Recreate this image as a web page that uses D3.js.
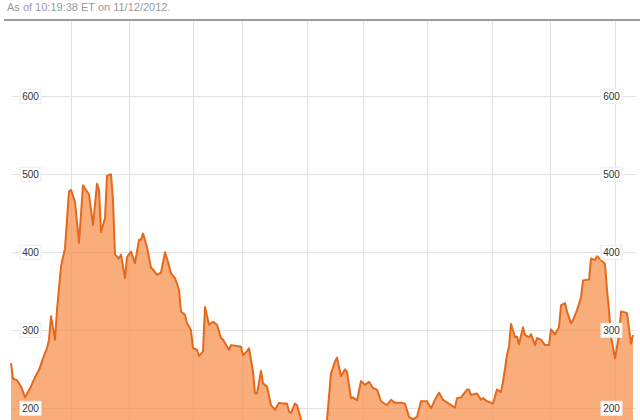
<!DOCTYPE html>
<html><head><meta charset="utf-8">
<script src="https://cdn.jsdelivr.net/npm/d3@7"></script>
<style>html,body{margin:0;padding:0;background:#fff;overflow:hidden}</style>
</head><body><svg id="c" width="640" height="420"></svg>
<script>
const title = "As of 10:19:38 ET on 11/12/2012.";
const days = [0,1,3,5,7,10,12,14,16,18,19,20,22,23,25,26,27,29,30,32,34,36,39,41,43,44,45,47,48,50,51,52,54,55,57,58,60,62,64,65,66,68,70,71,73,75,77,78,80,82,84,85,87,88,90,91,93,94,96,97,99,101,103,105,106,109,110,113,115,116,118,119,121,122,123,125,126,128,130,132,134,136,138,139,140,142,143,145,147,149,151,153,155,157,158,160,162,163,165,167,168,170,171,173,175,177,179,181,183,185,188,190,192,195,197,199,201,203,205,208,210,212,214,216,220,222,223,225,228,229,230,233,235,236,238,241,243,245,246,248,249,250,252,253,254,256,257,259,260,262,263,265,267,269,270,272,274,275,277,278,280,281,283,285,286,289,290,292,293,295,297,298,299,300,302,304,305,307,308,310,311];
const prices = [258,238,236,228,214,228,240,249,264,277,288,318,288,326,382,394,405,478,480,465,412,486,474,435,488,480,426,444,498,500,467,397,392,397,367,394,401,386,416,416,424,407,380,378,371,374,400,392,373,367,352,324,320,309,300,277,275,267,273,330,307,311,307,290,288,275,281,280,279,268,273,277,247,219,219,248,232,228,204,198,207,206,206,196,194,206,204,186,176,180,170,174,166,172,185,245,260,265,241,250,247,213,214,210,235,230,234,226,224,209,204,211,207,207,206,189,186,189,209,209,200,211,220,211,204,201,213,214,224,224,217,219,211,213,209,206,224,221,234,268,279,308,291,292,282,304,294,291,295,281,290,288,281,281,301,295,304,332,335,324,309,313,326,342,364,365,392,390,395,390,385,352,326,292,264,294,324,323,322,283,294];
const gridDays = [30, 59, 91, 115.5, 148, 176, 208, 240.5, 269.5, 302];
const yTicks = [200, 300, 400, 500, 600];

const data = days.map((d, i) => ({d, v: prices[i]}));
const svg = d3.select("#c");
const x = d3.scaleLinear().domain([0, 311]).range([11, 633]);
const y = d3.scaleLinear().domain([100, 600]).range([486.3, 96.3]);

svg.append("text").attr("x", 7).attr("y", 11)
  .attr("font-family", "Liberation Sans, Arial, sans-serif").attr("font-size", 11)
  .attr("fill", "#9a9a9a").text(title);
svg.append("line").attr("x1", 4).attr("x2", 640).attr("y1", 20).attr("y2", 20)
  .attr("stroke", "#9c9c9c").attr("stroke-width", 2);

const defs = svg.append("defs");
defs.append("clipPath").attr("id", "clip").append("rect")
  .attr("x", 0).attr("y", 21).attr("width", 640).attr("height", 400);

const g = svg.append("g").attr("clip-path", "url(#clip)");

g.selectAll(".hg").data(yTicks).enter().append("line")
  .attr("x1", 12).attr("x2", 636)
  .attr("y1", d => Math.round(y(d)) + 0.5).attr("y2", d => Math.round(y(d)) + 0.5)
  .attr("stroke", "#e2e2e2").attr("stroke-width", 1);
g.selectAll(".vg").data(gridDays).enter().append("line")
  .attr("x1", d => Math.round(x(d)) + 0.5).attr("x2", d => Math.round(x(d)) + 0.5)
  .attr("y1", 21).attr("y2", 420)
  .attr("stroke", "#e2e2e2").attr("stroke-width", 1);

const area = d3.area().x(p => x(p.d)).y0(y(100)).y1(p => y(p.v));
const line = d3.line().x(p => x(p.d)).y(p => y(p.v));
g.append("path").datum(data).attr("d", area)
  .attr("fill", "#f7924f").attr("fill-opacity", 0.75);
g.append("path").datum(data).attr("d", line)
  .attr("fill", "none").attr("stroke", "#e4691c").attr("stroke-width", 2)
  .attr("stroke-linejoin", "round");

function labels(cx) {
  const lg = svg.append("g");
  yTicks.forEach(t => {
    const yy = y(t);
    lg.append("rect").attr("x", cx - 10.5).attr("y", yy - 7).attr("width", 21).attr("height", 14)
      .attr("fill", "#fff").attr("stroke", "#ececec").attr("stroke-width", 1);
    lg.append("text").attr("x", cx).attr("y", yy + 3.5).attr("text-anchor", "middle")
      .attr("font-family", "Liberation Sans, Arial, sans-serif").attr("font-size", 10)
      .attr("fill", "#333").text(t);
  });
}
labels(30.5);
labels(611.5);
</script>
</body></html>
